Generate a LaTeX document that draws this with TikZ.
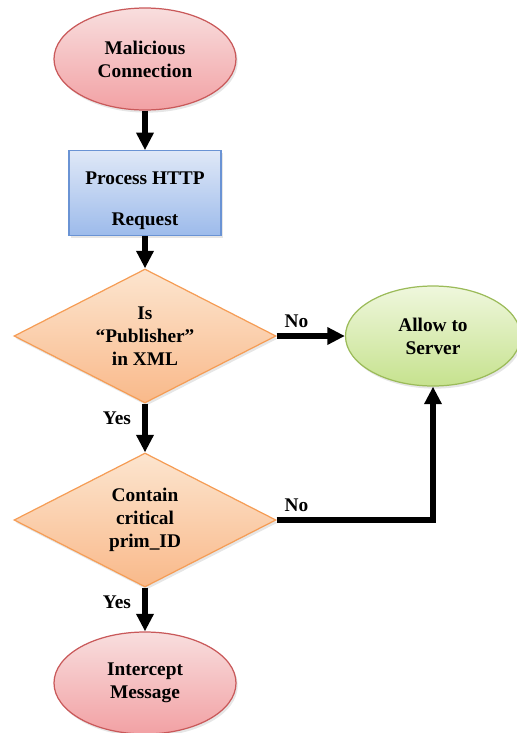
\documentclass[tikz,border=0pt]{standalone}
\usepackage{fontspec}
\setmainfont{Liberation Serif}
\usetikzlibrary{graphs,positioning,shapes.geometric,arrows.meta,shadows}
\definecolor{redline}{HTML}{C9595A}
\definecolor{redtop}{HTML}{F8DEDE}
\definecolor{redbot}{HTML}{F2A1A4}
\definecolor{blueline}{HTML}{6A93D4}
\definecolor{bluetop}{HTML}{DFE8F7}
\definecolor{bluebot}{HTML}{9DBBEB}
\definecolor{orangeline}{HTML}{F59D56}
\definecolor{orangetop}{HTML}{FCE5CF}
\definecolor{orangebot}{HTML}{F9B98A}
\definecolor{greenline}{HTML}{9BBB59}
\definecolor{greentop}{HTML}{EFF7DD}
\definecolor{greenbot}{HTML}{C6E28E}
\tikzset{
    terminal/.style ={
        shape=ellipse,
        draw=redline,
        top color=redtop,
        bottom color=redbot,
        line width=0.7pt,
        align=center,
        drop shadow={opacity=0.2,shadow xshift=1pt,shadow yshift=-1.5pt},
        minimum width=3.64cm,
        minimum height=2.04cm
    },
    process/.style ={
        shape=rectangle,
        draw=blueline,
        top color=bluetop,
        bottom color=bluebot,
        line width=0.7pt,
        align=center,
        drop shadow={opacity=0.2,shadow xshift=1pt,shadow yshift=-1.5pt},
        minimum width=3.04cm,
        minimum height=1.58cm
    },
    decision/.style ={
        shape=diamond,
        aspect=2,
        inner sep=0pt,
        draw=orangeline,
        top color=orangetop,
        bottom color=orangebot,
        line width=0.7pt,
        align=center,
        drop shadow={opacity=0.2,shadow xshift=1pt,shadow yshift=-1.5pt},
        minimum width=5.24cm,
        minimum height=2.68cm
    },
    allowed/.style ={
        shape=ellipse,
        draw=greenline,
        top color=greentop,
        bottom color=greenbot,
        line width=0.7pt,
        align=center,
        drop shadow={opacity=0.2,shadow xshift=1pt,shadow yshift=-1.5pt},
        minimum width=3.5cm,
        minimum height=2.0cm
    },
    answer/.style ={
        font=\fontsize{11pt}{13pt}\selectfont\bfseries
    }
}

\begin{document}
\begin{tikzpicture}[font=\fontsize{11pt}{13pt}\selectfont\bfseries,
    >={Triangle[length=10pt,width=9.5pt]}]
    \useasboundingbox (0,0) rectangle (10.34,-14.66);
    \node[terminal] (mal) at(2.90,-1.18) {Malicious\\Connection};
    \node[process] (proc) at(2.90,-3.86) {\rule{0pt}{16pt}Process HTTP\\[10pt]Request};
    \node[decision] (pub) at(2.90,-6.72) {Is\\``Publisher''\\in XML};
    \node[allowed] (allow) at(8.66,-6.72) {Allow to\\Server};
    \node[decision] (crit) at(2.90,-10.40) {Contain\\critical\\prim\_ID};
    \node[terminal] (icpt) at(2.90,-13.66) {Intercept\\Message};
    \node[answer,above right=1pt and 1pt of pub.east] {No};
    \node[answer,below left=1pt and 4.5pt of pub.south] {Yes};
    \node[answer,above right=1pt and 1pt of crit.east] {No};
    \node[answer,below left=1pt and 4.5pt of crit.south] {Yes};
    \graph[edges={line width=3.2pt}]{
        (mal)->(proc)->(pub)->(crit)->(icpt);
        (pub)->(allow);
    };
    \draw[line width=3.2pt,->] (crit.east) -| (allow.south);
\end{tikzpicture}
\end{document}
